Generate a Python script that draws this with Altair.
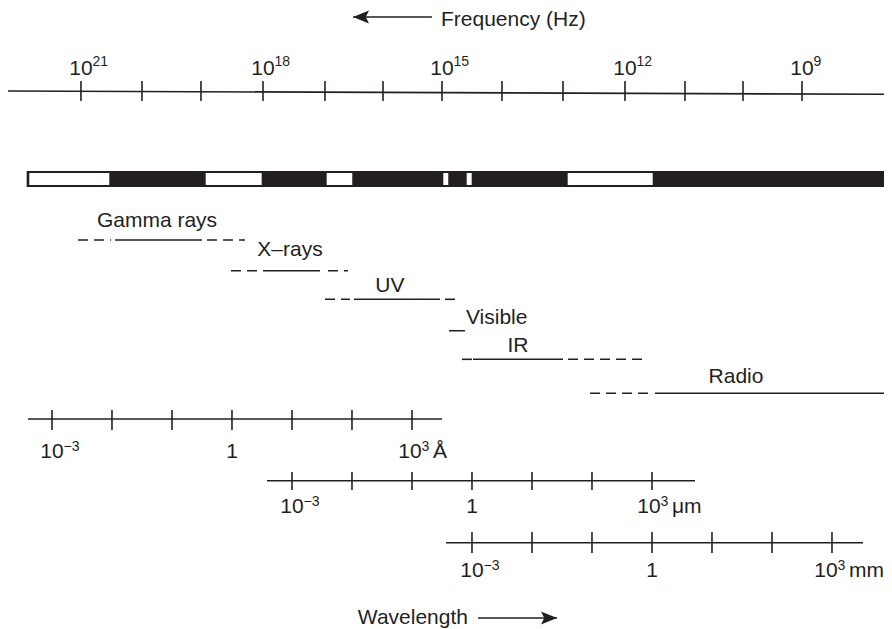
import altair as alt
import pandas as pd

INK = "#231f20"
FONT = "Liberation Sans"
FS = 21      # main text size
FS_SUP = 14  # superscript size

# x quantity: log10 of wavelength in metres (all marks share this scale)
X_DOMAIN = [-13.733, 0.867]
xs = alt.Scale(domain=X_DOMAIN, nice=False, zero=False)

# ---------------- data ----------------
# frequency axis (top)
freq_line_start = [-13.733]
freq_line_end = [0.933]
freq_tick_pos = [-12.517, -11.5, -10.517, -9.483, -8.45, -7.483, -6.5,
                 -5.5, -4.483, -3.45, -2.45, -1.483, -0.5]
freq_label_pos = [-12.517, -9.483, -6.5, -3.45, -0.5]
freq_label_exp = ["21", "18", "15", "12", "9"]

# spectrum bar with transparent windows
bar_start = [-13.422]
bar_end = [0.95]
window_start = [-13.378, -10.438, -8.422, -6.478, -6.088, -4.405]
window_end = [-12.045, -9.505, -7.995, -6.395, -6.005, -2.988]

# spectral bands
band_names = ["Gamma rays", "X–rays", "UV", "Visible", "IR", "Radio"]
band_label_pos = [-11.25, -9.033, -7.367, -6.1, -5.233, -1.6]
seg_band = ["Gamma rays", "Gamma rays", "Gamma rays",
            "X–rays", "X–rays", "X–rays",
            "UV", "UV", "UV",
            "Visible",
            "IR", "IR", "IR",
            "Radio", "Radio"]
seg_start = [-12.567, -11.95, -10.417,
             -10.017, -9.483, -8.4,
             -8.45, -7.967, -6.45,
             -6.383,
             -6.167, -5.983, -4.4,
             -4.033, -2.95]
seg_end = [-12.017, -10.5, -9.783,
           -9.533, -8.533, -8.067,
           -8.033, -6.533, -6.25,
           -6.117,
           -6.0, -4.483, -3.15,
           -3.0, 0.95]
seg_kind = ["dashed", "solid", "dashed",
            "dashed", "solid", "dashed",
            "dashed", "solid", "dashed",
            "solid",
            "dashed", "solid", "dashed",
            "dashed", "solid"]

# wavelength axes (exponents of wavelength in metres)
ang_ticks = [-13, -12, -11, -10, -9, -8, -7]
um_ticks = [-9, -8, -7, -6, -5, -4, -3]
mm_ticks = [-6, -5, -4, -3, -2, -1, 0]
ang_line = [-13.4, -6.5]
um_line = [-9.417, -2.283]
mm_line = [-6.433, 0.517]
wl_label_main = ["10", "1", "10"]
wl_label_sup = ["−3", "", "3"]

# direction arrows
freq_arrow = [-7.983, -6.667]   # tip, tail
wl_arrow = [-5.9, -4.583]       # tail, tip
freq_title_pos = [-6.517]
wl_title_pos = [-6.067]

# ---------------- layout (pixels) ----------------
ROW_LINE_Y = {"Gamma rays": 232, "X–rays": 262.7, "UV": 291.3,
              "Visible": 322.7, "IR": 351.3, "Radio": 385.3}
ROW_TEXT_Y = {"Gamma rays": 219, "X–rays": 248, "UV": 284,
              "Visible": 316, "IR": 344, "Radio": 375}

def X(f):
    return alt.X(f"{f}:Q", scale=xs, axis=None)

def X2(f):
    return alt.X2(f"{f}:Q")

def text_layer(df, y, align="center", size=FS, dx=0, field="t"):
    return alt.Chart(df).mark_text(
        align=align, baseline="alphabetic", font=FONT, fontSize=size,
        color=INK, dx=dx
    ).encode(x=X("x"), y=alt.value(y), text=alt.Text(f"{field}:N"))

layers = []

# ---- frequency axis ----
layers.append(alt.Chart(pd.DataFrame({"a": freq_line_start, "b": freq_line_end}))
              .mark_rule(color=INK, strokeWidth=1.6)
              .encode(x=X("a"), x2=X2("b"), y=alt.value(83), y2=alt.value(86.3)))
layers.append(alt.Chart(pd.DataFrame({"x": freq_tick_pos}))
              .mark_rule(color=INK, strokeWidth=1.6)
              .encode(x=X("x"), y=alt.value(73), y2=alt.value(93)))
fl = pd.DataFrame({"x": freq_label_pos, "t": ["10"] * len(freq_label_pos), "s": freq_label_exp})
layers.append(text_layer(fl, 67))
layers.append(text_layer(fl, 58, align="left", size=FS_SUP, dx=11.5, field="s"))

# frequency title + arrow
layers.append(text_layer(pd.DataFrame({"x": freq_title_pos, "t": ["Frequency (Hz)"]}), 18, align="left"))
layers.append(alt.Chart(pd.DataFrame({"a": [freq_arrow[0]], "b": [freq_arrow[1]]}))
              .mark_rule(color=INK, strokeWidth=1.6)
              .encode(x=X("a"), x2=X2("b"), y=alt.value(9)))
layers.append(alt.Chart(pd.DataFrame({"x": [freq_arrow[0]]}))
              .mark_point(filled=True, color=INK, opacity=1, size=256,
                          shape="M 0 0 L 2 -0.8 L 1.6 0 L 2 0.8 Z")
              .encode(x=X("x"), y=alt.value(9)))

# ---- spectrum bar ----
layers.append(alt.Chart(pd.DataFrame({"a": bar_start, "b": bar_end}))
              .mark_rect(color=INK)
              .encode(x=X("a"), x2=X2("b"), y=alt.value(163), y2=alt.value(179)))
layers.append(alt.Chart(pd.DataFrame({"a": window_start, "b": window_end}))
              .mark_rect(color="white")
              .encode(x=X("a"), x2=X2("b"), y=alt.value(165), y2=alt.value(177)))

# ---- bands ----
segs = pd.DataFrame({"band": seg_band, "a": seg_start, "b": seg_end, "kind": seg_kind})
segs["ypx"] = segs["band"].map(ROW_LINE_Y)
layers.append(alt.Chart(segs).mark_rule(color=INK, strokeWidth=1.6).encode(
    x=X("a"), x2=X2("b"),
    y=alt.Y("ypx:Q", scale=None),
    strokeDash=alt.StrokeDash("kind:N", legend=None,
                              scale=alt.Scale(domain=["solid", "dashed"],
                                              range=[[1, 0], [10, 6]]))))
bl = pd.DataFrame({"x": band_label_pos, "t": band_names})
bl["ypx"] = bl["t"].map(ROW_TEXT_Y)
for name in band_names:
    sub = bl[bl["t"] == name]
    layers.append(text_layer(sub, float(sub["ypx"].iloc[0]),
                             align="left" if name == "Visible" else "center"))

# ---- wavelength axes ----
def wl_axis(ticks, line, unit, line_y, tick_top, tick_bot, base_y, end_shift=0):
    out = []
    out.append(alt.Chart(pd.DataFrame({"a": [line[0]], "b": [line[1]]}))
               .mark_rule(color=INK, strokeWidth=1.6)
               .encode(x=X("a"), x2=X2("b"), y=alt.value(line_y)))
    out.append(alt.Chart(pd.DataFrame({"x": ticks}))
               .mark_rule(color=INK, strokeWidth=1.6)
               .encode(x=X("x"), y=alt.value(tick_top), y2=alt.value(tick_bot)))
    lab = pd.DataFrame({"x": [ticks[0], ticks[3]],
                        "t": wl_label_main[:2], "s": wl_label_sup[:2]})
    out.append(text_layer(lab, base_y))
    out.append(text_layer(lab, base_y - 7, align="left", size=FS_SUP, dx=11.5, field="s"))
    last = pd.DataFrame({"x": [ticks[6]], "t": [wl_label_main[2]],
                         "s": [wl_label_sup[2]], "u": [unit]})
    out.append(text_layer(last, base_y, dx=end_shift))
    out.append(text_layer(last, base_y - 7, align="left", size=FS_SUP,
                          dx=11.5 + end_shift, field="s"))
    out.append(text_layer(last, base_y, align="left", dx=23 + end_shift, field="u"))
    return out

layers += wl_axis(ang_ticks, ang_line, "Å", 411, 402, 422, 450, end_shift=-2)
layers += wl_axis(um_ticks, um_line, "μm", 472.7, 464, 482, 505, end_shift=-3)
layers += wl_axis(mm_ticks, mm_line, "mm", 534.7, 524, 545, 569, end_shift=-6)

# wavelength title + arrow
layers.append(text_layer(pd.DataFrame({"x": wl_title_pos, "t": ["Wavelength"]}), 616, align="right"))
layers.append(alt.Chart(pd.DataFrame({"a": [wl_arrow[0]], "b": [wl_arrow[1]]}))
              .mark_rule(color=INK, strokeWidth=1.6)
              .encode(x=X("a"), x2=X2("b"), y=alt.value(610)))
layers.append(alt.Chart(pd.DataFrame({"x": [wl_arrow[1]]}))
              .mark_point(filled=True, color=INK, opacity=1, size=256,
                          shape="M 0 0 L -2 -0.8 L -1.6 0 L -2 0.8 Z")
              .encode(x=X("x"), y=alt.value(610)))

chart = alt.layer(*layers).properties(
    width=876, height=620,
    padding=0,
    autosize=alt.AutoSizeParams(type="none"),
    background="white",
).configure_view(stroke=None)

chart.save("out.html", embed_options={"renderer": "svg", "actions": False})
